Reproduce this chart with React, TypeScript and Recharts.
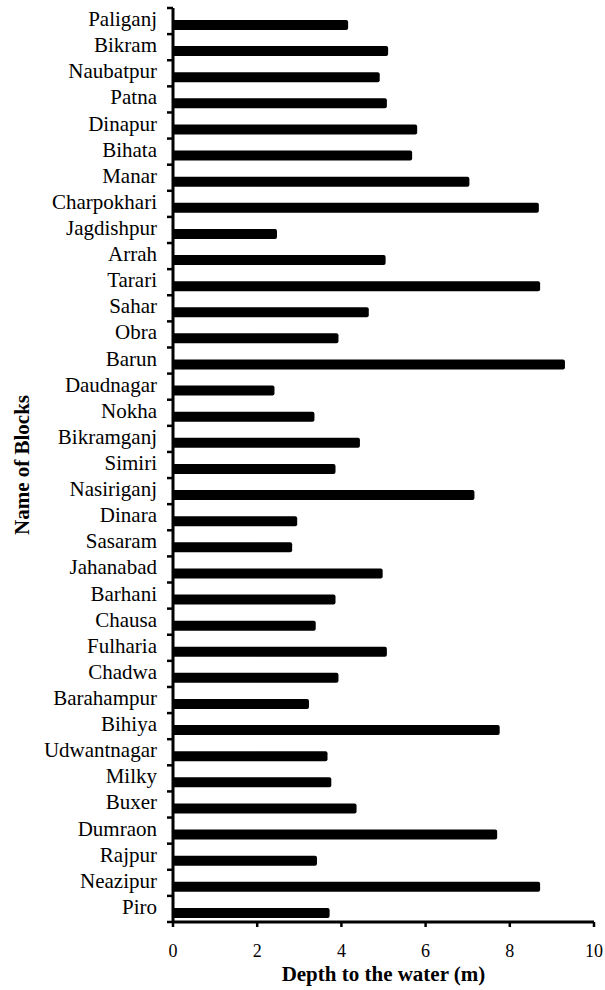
import { Bar, BarChart, Rectangle, XAxis, YAxis } from "recharts";

const blocks = [
  "Paliganj", "Bikram", "Naubatpur", "Patna", "Dinapur", "Bihata", "Manar",
  "Charpokhari", "Jagdishpur", "Arrah", "Tarari", "Sahar", "Obra", "Barun",
  "Daudnagar", "Nokha", "Bikramganj", "Simiri", "Nasiriganj", "Dinara",
  "Sasaram", "Jahanabad", "Barhani", "Chausa", "Fulharia", "Chadwa",
  "Barahampur", "Bihiya", "Udwantnagar", "Milky", "Buxer", "Dumraon",
  "Rajpur", "Neazipur", "Piro",
];

const depths = [
  4.16, 5.11, 4.91, 5.08, 5.8, 5.68, 7.04,
  8.69, 2.47, 5.05, 8.72, 4.65, 3.93, 9.31,
  2.41, 3.36, 4.44, 3.86, 7.16, 2.95,
  2.83, 4.98, 3.86, 3.39, 5.08, 3.93,
  3.23, 7.76, 3.67, 3.76, 4.36, 7.7,
  3.42, 8.72, 3.72,
];

const xTicks = [0, 2, 4, 6, 8, 10];

const data = blocks.map((name, i) => ({ name, depth: depths[i] }));

const W = 605;
const H = 990;
const TOP = 8;
const AXIS_W = 173;
const X_AXIS_H = 68;
const BAND = (H - TOP - X_AXIS_H) / blocks.length;
const FONT = '"Liberation Serif", "Times New Roman", serif';

function BlockTick(props: any) {
  const { y, payload, index } = props;
  const last = index === blocks.length - 1;
  return (
    <g>
      <text
        x={AXIS_W - 16}
        y={y + 5}
        textAnchor="end"
        fontFamily={FONT}
        fontSize={21}
        fill="#000"
      >
        {payload.value}
      </text>
      <line x1={AXIS_W - 6} x2={AXIS_W} y1={y - BAND / 2} y2={y - BAND / 2} stroke="#000" strokeWidth={2.5} />
      {last && (
        <line x1={AXIS_W - 6} x2={AXIS_W} y1={y + BAND / 2} y2={y + BAND / 2} stroke="#000" strokeWidth={2.5} />
      )}
    </g>
  );
}

// bars sit a little below the band centre in the original
const ShiftedBar = (props: any) => <Rectangle {...props} y={props.y + 4} />;

export default function App() {
  return (
    <div style={{ position: "absolute", left: 0, top: 0, width: W, height: H, background: "#fff" }}>
      <BarChart
        width={W}
        height={H}
        data={data}
        layout="vertical"
        margin={{ top: TOP, right: 11, bottom: 0, left: 0 }}
        barCategoryGap={0}
      >
        <XAxis
          type="number"
          domain={[0, 10]}
          ticks={xTicks}
          height={X_AXIS_H}
          axisLine={{ stroke: "#000", strokeWidth: 3 }}
          tickLine={{ stroke: "#000", strokeWidth: 2.5 }}
          tickSize={5}
          tickMargin={17}
          tick={{ fill: "#000", fontSize: 18, fontFamily: FONT }}
          label={{
            value: "Depth to the water (m)",
            position: "insideBottom",
            offset: 9,
            fill: "#000",
            fontSize: 21,
            fontWeight: "bold",
            fontFamily: FONT,
          }}
        />
        <YAxis
          type="category"
          dataKey="name"
          width={AXIS_W}
          interval={0}
          axisLine={{ stroke: "#000", strokeWidth: 3 }}
          tickLine={false}
          tick={<BlockTick />}
          label={{
            content: () => (
              <text
                transform="translate(29,465) rotate(-90)"
                textAnchor="middle"
                fontFamily={FONT}
                fontSize={21}
                fontWeight="bold"
                fill="#000"
              >
                Name of Blocks
              </text>
            ),
          }}
        />
        <Bar
          dataKey="depth"
          fill="#000"
          barSize={10}
          radius={[0, 2, 2, 0]}
          shape={ShiftedBar}
          isAnimationActive={false}
        />
      </BarChart>
    </div>
  );
}
